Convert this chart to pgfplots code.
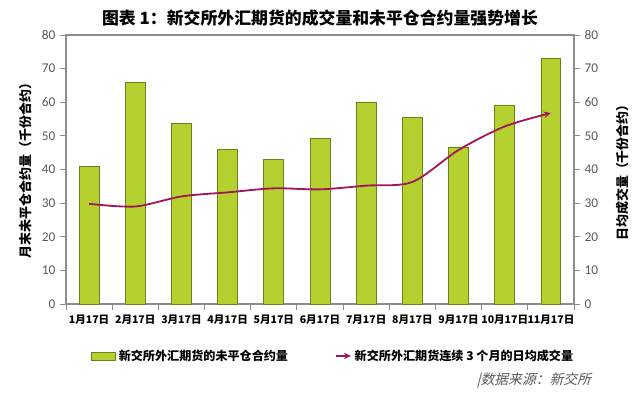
\documentclass[border=0pt]{standalone}
\usepackage{pgfplots}
\pgfplotsset{compat=1.18}
\usepackage{fontspec}
\setmainfont{Carlito}
\newfontfamily\cjk{Noto Sans CJK SC}
\newfontfamily\cjki{Noto Sans CJK SC}[FakeSlant=0.25]
\usetikzlibrary{arrows.meta}
\definecolor{barfill}{HTML}{B5D130}
\definecolor{bardraw}{HTML}{6E7F1E}
\definecolor{linec}{HTML}{A0185A}
\definecolor{axisg}{HTML}{8C8C8C}
\definecolor{tickt}{HTML}{595959}
\pgfplotsset{shortline/.style={legend image code/.code={\draw[##1] (0cm,0cm) -- (0.38cm,0cm);}}}
\begin{document}
\begin{tikzpicture}
\pgfplotsset{every axis/.append style={
  scale only axis, width=12.7cm, height=6.725cm,
  xmin=-0.5, xmax=10.5, ymin=0, ymax=80, ytick={0,10,...,80},
  tick align=outside,
  axis line style={axisg, line width=0.8pt},
  major tick style={axisg, line width=0.6pt},
  major tick length=4pt,
  /pgf/number format/assume math mode=true,
  y tick label style={font=\fontsize{9.5}{10}\selectfont, text=tickt},
  ylabel style={font=\cjk\bfseries\fontsize{9.2}{10}\selectfont},
}}
\begin{axis}[name=a,
  ytick pos=left, xtick pos=bottom,
  xtick={-0.5,0.5,1.5,2.5,3.5,4.5,5.5,6.5,7.5,8.5,9.5,10.5},
  x tick label as interval,
  xticklabels={1月17日,2月17日,3月17日,4月17日,5月17日,6月17日,7月17日,8月17日,9月17日,10月17日,11月17日},
  x tick label style={font=\cjk\bfseries\fontsize{7.5}{9}\selectfont, text=black},
  ylabel={月末未平仓合约量（千份合约）},
  ylabel style={xshift=0.05cm},
]
\addplot[ybar, bar width=0.43, fill=barfill, draw=bardraw, line width=0.6pt] coordinates {
(0,40.8) (1,65.8) (2,53.6) (3,46.1) (4,42.9) (5,49.1) (6,60.1) (7,55.6) (8,46.7) (9,59.2) (10,72.9)};
\end{axis}
\begin{axis}[
  axis x line=none, axis y line*=right,
  ylabel={日均成交量（千份合约）},
  ylabel style={yshift=-0.22cm},
  legend columns=2,
  legend style={at={(0.527,-0.193)}, anchor=center, draw=none, fill=none,
    font=\cjk\bfseries\fontsize{8.6}{10}\selectfont,
    /tikz/every even column/.append style={column sep=1.1cm}},
]
\addlegendimage{area legend, fill=barfill, draw=bardraw}
\addlegendentry{新交所外汇期货的未平仓合约量}
\addplot[linec, line width=1.3pt, smooth, mark=none, -{Stealth[length=5pt,width=4.5pt]}, shortline] coordinates {
(0,29.8) (1,29.0) (2,32.0) (3,33.2) (4,34.4) (5,34.1) (6,35.2) (7,36.3) (8,45.8) (9,52.8) (10,56.8)};
\addlegendentry{新交所外汇期货连续 3 个月的日均成交量}
\end{axis}
\node[font=\cjk\bfseries\fontsize{12}{14}\selectfont] at ([yshift=0.425cm]a.north) {图表 1：新交所外汇期货的成交量和未平仓合约量强势增长};
\node[anchor=west, font=\cjki\fontsize{9.8}{11}\selectfont, text=tickt] at ([xshift=10.15cm, yshift=-1.925cm]a.south west) {|数据来源：新交所};
\pgfresetboundingbox
\useasboundingbox ([xshift=-1.65cm, yshift=-2.35cm]a.south west) rectangle ([xshift=14.35cm, yshift=7.6cm]a.south west);
\end{tikzpicture}
\end{document}
